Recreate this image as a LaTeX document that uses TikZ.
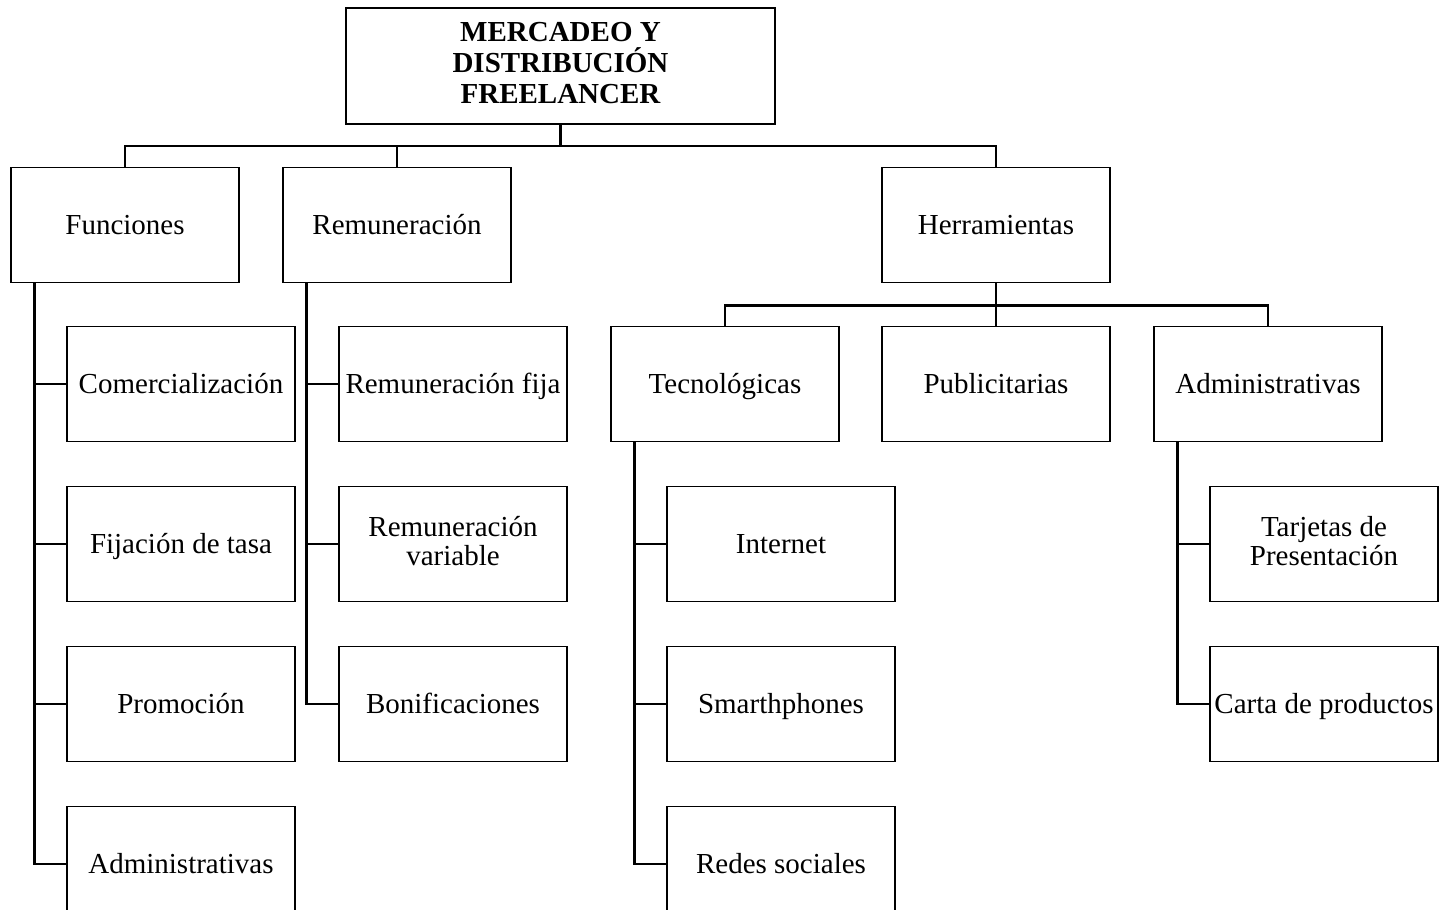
\documentclass[tikz,border=0pt]{standalone}
\usepackage{fontspec}
\setmainfont{Liberation Serif}
\usetikzlibrary{positioning}

\newcommand{\boxtop}{\rule{0pt}{13pt}}
\newcommand{\boxbot}{\rule[-3.2pt]{0pt}{3.2pt}}

\begin{document}
\begin{tikzpicture}[x=0.5pt, y=-0.5pt,
    box/.style={draw, line width=0.9pt, minimum width=114pt, minimum height=57.5pt,
        inner sep=0pt, align=center, font=\fontsize{14.5}{14.5}\selectfont,
        execute at begin node=\boxtop, execute at end node=\boxbot},
    topbox/.style={box, minimum width=214.5pt, minimum height=58pt,
        font=\fontsize{14.5}{15.5}\selectfont\bfseries},
    link/.style={line width=1.4pt}]

    \clip (0,0) rectangle (1441,910);

    %root and first level
    \node[topbox] (root) at (560.5,66) {MERCADEO Y\\DISTRIBUCIÓN\\FREELANCER};
    \node[box] (fun) at (125,225) {Funciones};
    \node[box] (rem) [right=21.1pt of fun] {Remuneración};
    \node[box] (her) at (996,225) {Herramientas};

    %funciones
    \node[box] (com) at (181,384) {Comercialización};
    \node[box] (fij) [below=21.6pt of com] {Fijación de tasa};
    \node[box] (pro) [below=21.6pt of fij] {Promoción};
    \node[box] (adf) [below=21.6pt of pro] {Administrativas};

    %remuneracion
    \node[box] (rfi) at (453,384) {Remuneración fija};
    \node[box] (rva) [below=21.6pt of rfi] {Remuneración\\variable};
    \node[box] (bon) [below=21.6pt of rva] {Bonificaciones};

    %herramientas
    \node[box] (tec) at (725,384) {Tecnológicas};
    \node[box] (pub) [right=20.6pt of tec] {Publicitarias};
    \node[box] (adh) [right=21.1pt of pub] {Administrativas};

    \node[box] (int) at (781,544) {Internet};
    \node[box] (sma) [below=21.6pt of int] {Smarthphones};
    \node[box] (red) [below=21.6pt of sma] {Redes sociales};

    \node[box] (tar) at (1324,544) {Tarjetas de\\Presentación};
    \node[box] (car) [below=21.6pt of tar] {Carta de productos};

    %define the links
    \coordinate (bus1) at (560.5,146);
    \draw[link] (root.south) -- (bus1);
    \draw[link] (fun.north) |- (bus1) -| (her.north);
    \draw[link] (rem.north) -- (rem.north |- bus1);

    \coordinate (bus2) at ([yshift=-11pt]her.south);
    \draw[link] (her.south) -- (bus2);
    \draw[link] (tec.north) |- (bus2) -| (adh.north);
    \draw[link] (pub.north) -- (pub.north |- bus2);

    \coordinate (sf) at ([xshift=12pt]fun.south west);
    \draw[link] (sf) |- (adf.west);
    \foreach \n in {com,fij,pro}
        \draw[link] (sf |- \n.west) -- (\n.west);

    \coordinate (sr) at ([xshift=12pt]rem.south west);
    \draw[link] (sr) |- (bon.west);
    \foreach \n in {rfi,rva}
        \draw[link] (sr |- \n.west) -- (\n.west);

    \coordinate (st) at ([xshift=12pt]tec.south west);
    \draw[link] (st) |- (red.west);
    \foreach \n in {int,sma}
        \draw[link] (st |- \n.west) -- (\n.west);

    \coordinate (sa) at ([xshift=12pt]adh.south west);
    \draw[link] (sa) |- (car.west);
    \draw[link] (sa |- tar.west) -- (tar.west);
\end{tikzpicture}
\end{document}
